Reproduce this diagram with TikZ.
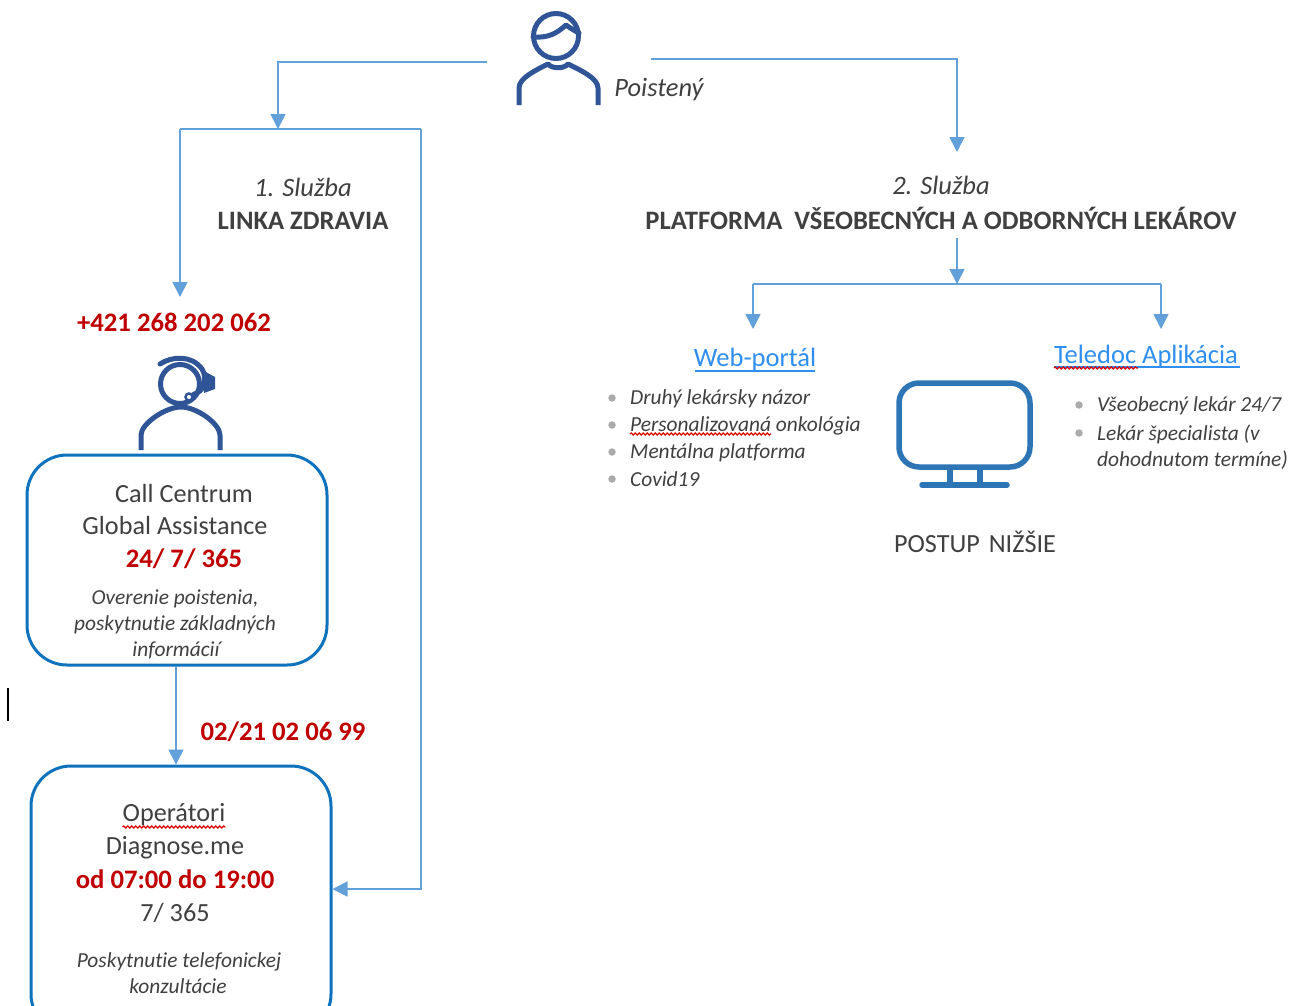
\documentclass[tikz,border=0pt]{standalone}
\usepackage{fontspec}
\setmainfont[Ligatures=NoCommon]{Carlito}
\usetikzlibrary{arrows.meta,decorations.pathmorphing}
\definecolor{conn}{HTML}{62A0DA}
\definecolor{boxb}{HTML}{0F72BD}
\definecolor{icon}{HTML}{2F5597}
\definecolor{mon}{HTML}{2E75B6}
\definecolor{txt}{HTML}{404040}
\definecolor{redt}{HTML}{C00000}
\definecolor{linkc}{HTML}{2E8FF0}
\definecolor{bul}{HTML}{ABABAB}
\tikzset{
 x=1pt,y=-1pt,
 conline/.style={draw=conn,line width=1.6pt},
 conarrow/.style={conline,-{Triangle[width=15pt,length=15pt]}},
 roundbox/.style={draw=boxb,line width=3pt,rounded corners=40pt,fill=white,inner sep=0pt},
 iconline/.style={draw=icon,line width=5pt,line cap=round,line join=round},
 monline/.style={draw=mon,line width=5.5pt,line cap=round,line join=round},
 body/.style={font=\fontsize{26.2}{26.2}\selectfont,text=txt,inner sep=0pt},
 redb/.style={font=\fontsize{26.7}{26.7}\selectfont\bfseries,text=redt,inner sep=0pt},
 itx/.style={font=\fontsize{21.4}{21.4}\selectfont\itshape,text=txt,inner sep=0pt},
 itbig/.style={font=\fontsize{26.5}{26.5}\selectfont\itshape,text=txt,inner sep=0pt},
 head/.style={font=\fontsize{26.6}{26.6}\selectfont\bfseries,text=txt,inner sep=0pt},
 linkt/.style={font=\fontsize{26.5}{26.5}\selectfont,text=linkc,inner sep=0pt},
 squig/.style={draw=red!85!black,line width=1.2pt,decorate,decoration={snake,amplitude=1pt,segment length=4pt}},
 bulletdot/.style={circle,fill=bul,minimum size=7.5pt,inner sep=0pt},
 under/.style={draw=linkc,line width=1.4pt},
}
\begin{document}
\begin{tikzpicture}
\useasboundingbox (0,0) rectangle (1291,1005);
\clip (0,0) rectangle (1291,1005);
\fill[white] (0,0) rectangle (1291,1005);

% boxes
\node[roundbox,minimum width=300pt,minimum height=210pt] (call) at (177,560) {};
\node[roundbox,minimum width=300pt,minimum height=268pt] (oper) at (181,900) {};

% coordinates
\coordinate (pL) at (487,62); \coordinate (pL1) at (278,62); \coordinate (pL2) at (278,129);
\coordinate (fTL) at (180,129); \coordinate (fTR) at (421,129); \coordinate (fBR) at (421,889);
\coordinate (fB) at (oper.east|-fBR); \coordinate (fD) at (180,297);
\coordinate (pR) at (651,59); \coordinate (pR1) at (957,59); \coordinate (pR2) at (957,152);
\coordinate (s2) at (957,238); \coordinate (j) at (957,284);
\coordinate (jL) at (753,284); \coordinate (jR) at (1161,284);
\coordinate (jLe) at (753,329); \coordinate (jRe) at (1161,329);
\coordinate (cur1) at (8,688); \coordinate (cur2) at (8,721);

% connectors
\draw[conarrow] (pL) -- (pL1) -- (pL2);
\draw[conline] (fTL) -- (fTR);
\draw[conarrow] (fTR) -- (fBR) -- (fB);
\draw[conarrow] (fTL) -- (fD);
\draw[conarrow] (pR) -- (pR1) -- (pR2);
\draw[conarrow] (s2) -- (j);
\draw[conline] (jL) -- (jR);
\draw[conarrow] (jL) -- (jLe);
\draw[conarrow] (jR) -- (jRe);
\draw[conarrow] (call.south-|176,0) -- (oper.north-|176,0);
\draw[black,line width=1.2pt] (cur1) -- (cur2);

% insured icon
\draw[iconline] (556,36) circle (22.5);
\draw[iconline] (533,37) .. controls (548,38) and (556,34) .. (566,25) .. controls (570,28) and (575,31) .. (579,33);
\draw[iconline,line cap=butt] (519,105) -- (519,88) .. controls (519,78) and (536,70) .. (548,64) .. controls (552,69) and (564,69) .. (568,64) .. controls (580,70) and (598,78) .. (598,88) -- (598,105);
\node[itbig] (poist) at (659,90) {Poistený};

% operator icon
\draw[iconline] (180,384) circle (19.5);
\draw[iconline] (160,364) .. controls (172,356) and (192,355) .. (202,369) .. controls (206,376) and (206,385) .. (200,391) -- (191,396);
\fill[icon] (204,371) -- (215,377) -- (215,389) -- (204,393) -- cycle;
\draw[icon,line width=2.5pt,fill=white] (189,397) circle (3.5);
\draw[iconline,line cap=butt] (141,450) -- (141,435) .. controls (141,424) and (165,407) .. (181,407) .. controls (197,407) and (220,424) .. (220,435) -- (220,450);

% monitor
\draw[monline,rounded corners=20pt] (899,383) rectangle (1030,467);
\draw[monline,line cap=butt] (950,468) -- (950,485);
\draw[monline,line cap=butt] (980,468) -- (980,485);
\draw[monline] (922,485) -- (1007,485);

% titles
\node[itbig] (t1) at (303,187) {1. Služba};
\node[head] (t1b) at (303,221) {LINKA ZDRAVIA};
\node[itbig] (t2) at (941,185) {2. Služba};
\node[head] (t2b) at (941,218) {PLATFORMA\hspace{6pt} VŠEOBECNÝCH A ODBORNÝCH LEKÁROV};

% phone
\node[redb] (ph1) at (174,322) {+421 268 202 062};
\node[redb] (ph2) at (283,732) {02/21 02 06 99};

% call box text
\node[body] (c1) at (184,493) {Call Centrum};
\node[body] (c2) at (175,525) {Global Assistance};
\node[redb] (c3) at (184,559) {24/ 7/ 365};
\node[itx] (c4) at (175,599) {Overenie poistenia,};
\node[itx] (c5) at (175,625) {poskytnutie základných};
\node[itx] (c6) at (176,650) {informácií};

% operator box text
\node[body] (o1) at (174,815) {Operátori};
\node[body] (o2) at (175,848) {Diagnose.me};
\node[redb] (o3) at (175,879) {od 07:00 do 19:00};
\node[body] (o4) at (175,913) {7/ 365};
\node[itx] (o5) at (179,962) {Poskytnutie telefonickej};
\node[itx] (o6) at (178,986) {konzultácie};
\draw[squig] (o1.south west|-0,827) -- (o1.south east|-0,827);

% web portal
\node[linkt] (w) at (755,359) {Web-portál};
\draw[under] (695,371) -- (815,371);
\foreach \n/\y/\t in {a/398/{Druhý lekársky názor},b/425/{Personalizovaná onkológia},c/452/{Mentálna platforma}}{
  \node[bulletdot] (bw\n) at (612,\y) {};
  \node[itx,anchor=west] (lw\n) at (630,\y+1) {\t};
}
\node[bulletdot] (bwd) at (612,479) {};
\node[itx,anchor=west] (lwd) at (630,479) {Covid19};
\draw[squig] (630,434) -- (771,434);

% teledoc
\node[linkt] (tl) at (1146,356) {Teledoc Aplikácia};
\draw[under] (1054,367) -- (1240,367);
\draw[squig] (1054,368) -- (1138,368);
\node[bulletdot] (bt1) at (1079,405) {};
\node[itx,anchor=west] (lt1) at (1097,406) {Všeobecný lekár 24/7};
\node[bulletdot] (bt2) at (1079,433) {};
\node[itx,anchor=west] (lt2) at (1097,434) {Lekár špecialista (v};
\node[itx,anchor=west] (lt3) at (1097,460) {dohodnutom termíne)};

\node[body] (pn) at (975,542) {POSTUP\hspace{3pt} NIŽŠIE};
\end{tikzpicture}
\end{document}
